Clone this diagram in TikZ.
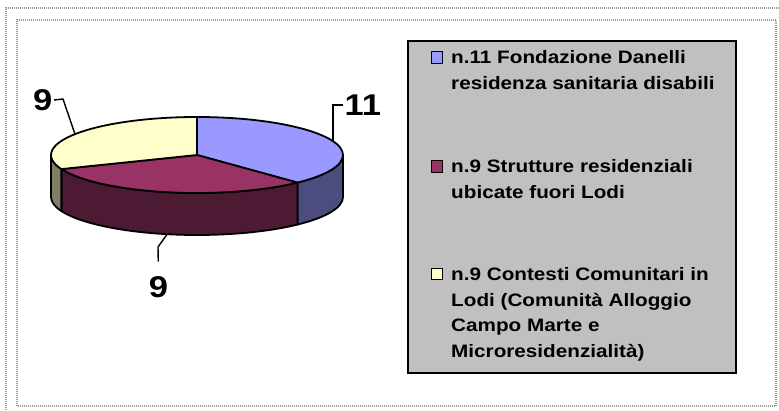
\documentclass[tikz,border=0pt]{standalone}
\usepackage{fontspec}
\setmainfont{Liberation Sans}
\newfontfamily\chartfont{Liberation Sans}[FakeStretch=1.15]
\usetikzlibrary{positioning}
\definecolor{sliceblue}{HTML}{9999FF}
\definecolor{slicemaroon}{HTML}{993366}
\definecolor{sliceyellow}{HTML}{FFFFCC}
\definecolor{blueside}{HTML}{4C4C7F}
\definecolor{maroonside}{HTML}{4C1A33}
\definecolor{yellowside}{HTML}{7F7F66}
\definecolor{legendgray}{HTML}{C0C0C0}
\tikzset{
  frameline/.style={draw=gray!80, line width=2bp, dash pattern=on 1bp off 1bp},
  legendbox/.style={draw=black, line width=1.5bp, fill=legendgray},
  swatch/.style={draw=black, line width=1.3bp, minimum size=11.5bp, inner sep=0},
  legendtext/.style={align=left, inner sep=0, anchor=north west, font=\chartfont\bfseries\fontsize{18bp}{25.5bp}\selectfont},
  datalabel/.style={font=\chartfont\bfseries\fontsize{30bp}{31bp}\selectfont, inner sep=1.5bp},
  leader/.style={draw=black, line width=1.4bp},
  pieedge/.style={draw=black, line width=1.8bp, line join=round}
}

\begin{document}
\begin{tikzpicture}[x=1bp, y=1bp]

\clip (0,0) rectangle (779,410);
\fill[white] (0,0) rectangle (779,410);

% frames
\draw[frameline] (6,-10) -- (6,402) -- (790,402);
\draw[frameline] (17,4) rectangle (776,390);

% pie (radii 146 and 38, height 42)
\begin{scope}[shift={(197,255)}]
  % sides
  \foreach \s/\e/\col in {-46.55/0/blueside, -158.27/-46.55/maroonside, -180/-158.27/yellowside} {
    \filldraw[pieedge, fill=\col] (\s:146 and 38) arc[start angle=\s, end angle=\e, x radius=146, y radius=38]
      -- ++(0,-42) arc[start angle=\e, end angle=\s, x radius=146, y radius=38] -- cycle;
  }
  % top
  \foreach \s/\e/\col in {90/-46.55/sliceblue, -46.55/-158.27/slicemaroon, -158.27/-270/sliceyellow} {
    \filldraw[pieedge, fill=\col] (0,0) -- (\s:146 and 38) arc[start angle=\s, end angle=\e, x radius=146, y radius=38] -- cycle;
  }
  \coordinate (p11) at (21.3:146 and 38);
  \coordinate (p9a) at (146.7:146 and 38);
  \path[shift={(0,-42)}] (-101.8:146 and 38) coordinate (p9b);
\end{scope}

% data labels
\node[datalabel, anchor=west] (lab11) at (343,305) {11};
\node[datalabel, anchor=east] (lab9a) at (54,310) {9};
\node[datalabel] (lab9b) at (158.5,123) {9};

\coordinate (k9a) at (63,311);
\coordinate (k9b) at (158,163);
\draw[leader] (p11) |- (lab11.west);
\draw[leader] (p9a) -- (k9a) -- (lab9a.east);
\draw[leader, shorten >=13bp] (p9b) -- (k9b) -- (lab9b.north);

% legend
\node[legendbox, minimum width=328bp, minimum height=332bp, inner sep=0, anchor=north west] (legend) at (407,370) {};

\node[swatch, fill=sliceblue] (sw1) at (437,352.5) {};
\node[swatch, fill=slicemaroon] (sw2) at (437,243.5) {};
\node[swatch, fill=sliceyellow] (sw3) at (437,136) {};

\node[legendtext] (txt1) at (451,359.5) {n.11 Fondazione Danelli\\residenza sanitaria disabili};
\node[legendtext] (txt2) at (451,250.5) {n.9 Strutture residenziali\\ubicate fuori Lodi};
\node[legendtext] (txt3) at (451,142.5) {n.9 Contesti Comunitari in\\Lodi (Comunità Alloggio\\Campo Marte e\\Microresidenzialità)};

\end{tikzpicture}
\end{document}
